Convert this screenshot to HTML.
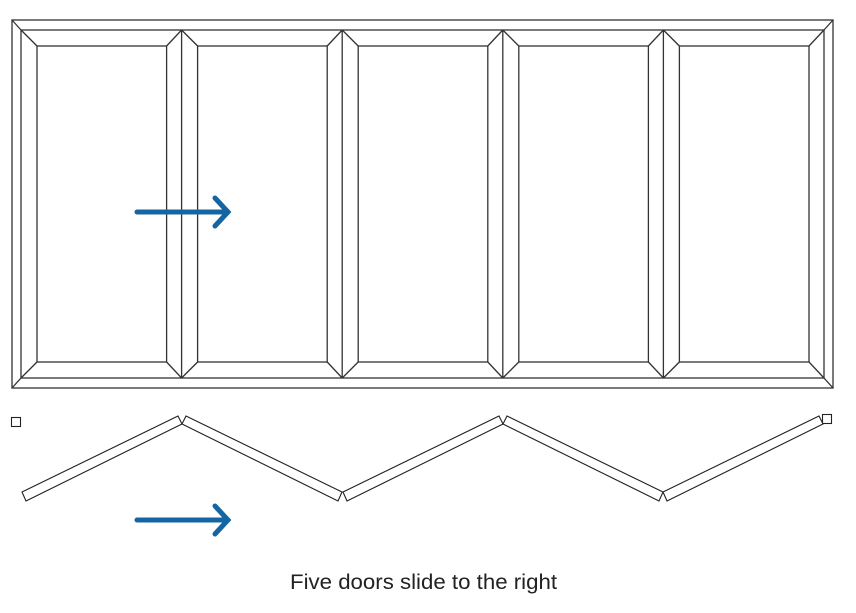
<!DOCTYPE html>
<html><head><meta charset="utf-8"><style>html,body{margin:0;padding:0;background:#fff}svg{display:block}</style></head>
<body>
<svg width="856" height="613" viewBox="0 0 856 613" xmlns="http://www.w3.org/2000/svg">
<g fill="none" stroke="#333" stroke-width="1.3">
<rect x="12" y="20" width="821" height="368"/>
<rect x="21" y="30" width="803" height="348"/>
<line x1="12" y1="20" x2="21" y2="30"/><line x1="833" y1="20" x2="824" y2="30"/>
<line x1="12" y1="388" x2="21" y2="378"/><line x1="833" y1="388" x2="824" y2="378"/>
<line x1="181.6" y1="30" x2="181.6" y2="378"/>
<line x1="342.2" y1="30" x2="342.2" y2="378"/>
<line x1="502.8" y1="30" x2="502.8" y2="378"/>
<line x1="663.4" y1="30" x2="663.4" y2="378"/>
<!-- panels -->
<g id="p"><rect x="37" y="46" width="129.6" height="316"/>
<line x1="21" y1="30" x2="37" y2="46"/><line x1="181.6" y1="30" x2="166.6" y2="46"/>
<line x1="21" y1="378" x2="37" y2="362"/><line x1="181.6" y1="378" x2="166.6" y2="362"/></g>
<use href="#p" x="160.6"/><use href="#p" x="321.2"/><use href="#p" x="481.8"/><use href="#p" x="642.4"/>
</g>
<g fill="#fff" stroke="#222" stroke-width="1.1">
<rect x="11.5" y="417.5" width="9" height="9"/>
<rect x="822.5" y="414.5" width="9" height="9"/>
<polygon points="22,492 178,416 182,424 26,501"/>
<polygon points="186,416 342,492 338,501 182,424"/>
<polygon points="343,492 499,416 503,424 347,501"/>
<polygon points="507,416 663,492 659,501 503,424"/>
<polygon points="663,492 819,416 823,424 667,501"/>
</g>
<g stroke="#1565a3" stroke-width="5" stroke-linecap="round" fill="none">
<line x1="137" y1="212" x2="227" y2="212"/><polyline points="215,198 228,212 215,226"/>
<line x1="137" y1="520" x2="227" y2="520"/><polyline points="215,506 228,520 215,534"/>
</g>
<text x="290" y="589" font-family="Liberation Sans, sans-serif" font-size="21" fill="#222" textLength="267" lengthAdjust="spacingAndGlyphs">Five doors slide to the right</text>
</svg>
</body></html>
